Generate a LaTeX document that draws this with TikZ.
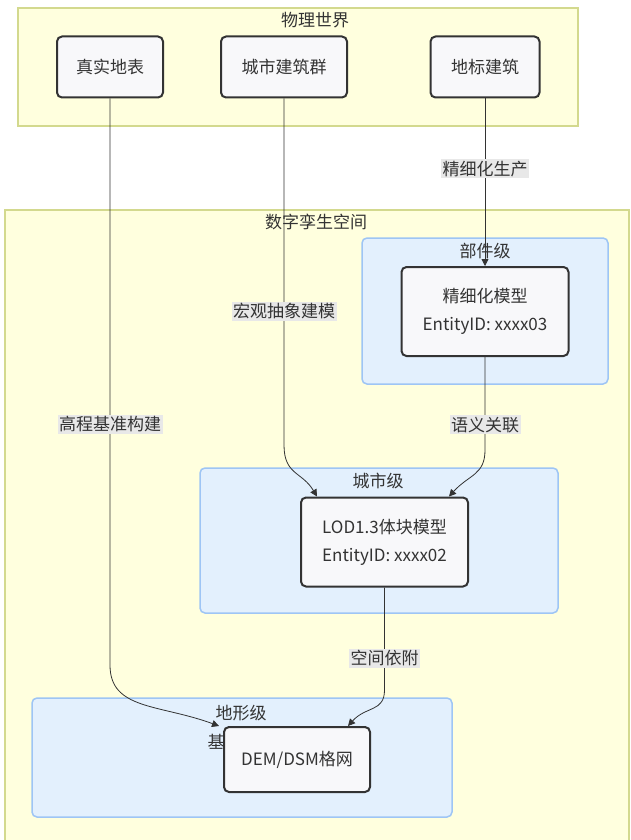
\documentclass[tikz,border=0pt]{standalone}
\usepackage{fontspec}
\setmainfont{Noto Sans CJK SC}
\usepackage{xcolor}
\usetikzlibrary{arrows.meta, positioning}
\definecolor{txt}{HTML}{333333}
\definecolor{yfill}{HTML}{FFFFDE}
\definecolor{ydraw}{HTML}{D3D98E}
\definecolor{bfill}{HTML}{E3F0FD}
\definecolor{bdraw}{HTML}{9EC5F5}
\definecolor{nfill}{HTML}{F8F8FA}
\definecolor{lfill}{HTML}{E8E8E8}

\begin{document}
\begin{tikzpicture}[x=1pt, y=-1pt, >={Triangle[length=7pt,width=7pt]},
    font=\fontsize{17}{28}\selectfont, text=txt,
    world/.style={draw=ydraw, fill=yfill, line width=1.2pt},
    level/.style={draw=bdraw, fill=bfill, line width=1.5pt, rounded corners=5pt},
    entity/.style={draw=txt, fill=nfill, line width=2pt, rounded corners=5pt, align=center, inner sep=0pt},
    title/.style={inner sep=1pt},
    elabel/.style={fill=lfill, inner sep=1.5pt},
    link/.style={->, draw=txt, line width=0.8pt}]
    \useasboundingbox (0,0) rectangle (630,840);
    \fill[white] (0,0) rectangle (630,840);

    % 物理世界 / 数字孪生空间
    \draw[world] (18,8) rectangle (578,126);
    \node[title] (twl) at (315,20) {物理世界};
    \draw[world] (5,210) rectangle (629,850);
    \node[title] (tsz) at (316,222) {数字孪生空间};

    % 三个层级
    \draw[level] (362,238) rectangle (608,384);
    \node[title] (tbj) at (485,251) {部件级};
    \draw[level] (200,468) rectangle (558,613);
    \node[title] (tcs) at (378,481) {城市级};
    \draw[level] (32,698) rectangle (452,817);
    \node[title] (tdx) at (241,713) {地形级};
    \node[title] (tji) at (216,742) {基};

    % 实体
    \node[entity, minimum width=106pt, minimum height=61pt] (zsdb) at (110,67) {真实地表};
    \node[entity, minimum width=126pt, minimum height=61pt] (csjz) at (284,67) {城市建筑群};
    \node[entity, minimum width=109pt, minimum height=61pt] (dbjz) at (485,67) {地标建筑};
    \node[entity, minimum width=167pt, minimum height=89pt] (jxmx) at (485,311.5) {精细化模型\\EntityID: xxxx03};
    \node[entity, minimum width=167pt, minimum height=89pt] (lod) at (384.5,542) {LOD1.3体块模型\\EntityID: xxxx02};
    \node[entity, minimum width=146pt, minimum height=65pt] (dem) at (297,759.5) {DEM/DSM格网};

    % 连线
    \draw[link] (dbjz.south) -- node[elabel, pos=0.42] {精细化生产} (jxmx.north);
    \draw[link] (csjz.south) -- node[elabel, pos=0.614] {宏观抽象建模} (csjz.south |- 0,445)
        .. controls +(0,30) and +(-15,-25) .. ([xshift=17pt]lod.north west);
    \draw[link] (jxmx.south) -- node[elabel, pos=0.73] {语义关联} (jxmx.south |- 0,450)
        .. controls +(0,25) and +(20,-22) .. ([xshift=-20pt]lod.north east);
    \draw[link] (zsdb.south) -- node[elabel, pos=0.575] {高程基准构建} (zsdb.south |- 0,665)
        .. controls +(0,45) and +(-60,-22) .. ([xshift=-4pt]dem.north west);
    \draw[link] (lod.south) -- node[elabel, pos=0.69] {空间依附} (lod.south |- 0,690)
        .. controls +(0,22) and +(18,-20) .. ([xshift=-23pt]dem.north east);
\end{tikzpicture}
\end{document}
